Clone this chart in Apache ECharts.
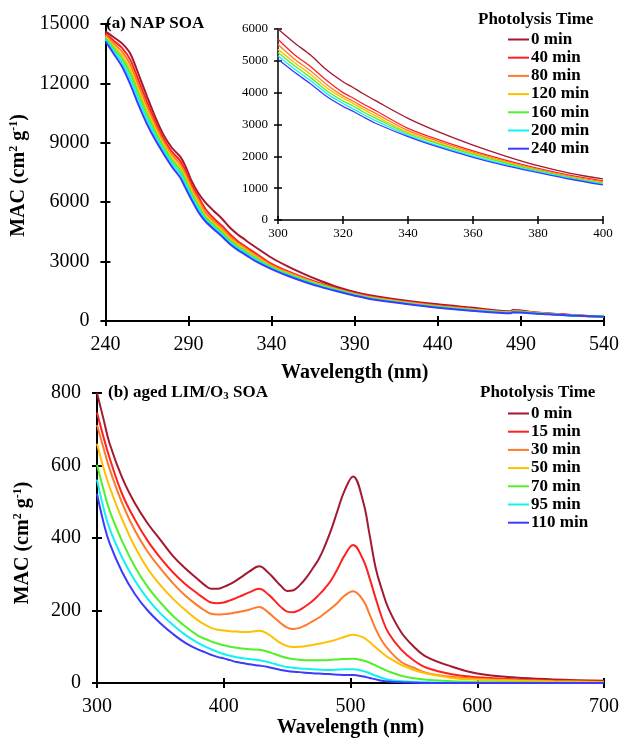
<!DOCTYPE html>
<html><head><meta charset="utf-8">
<script src="https://cdn.jsdelivr.net/npm/echarts@6/dist/echarts.min.js"></script>
<style>html,body{margin:0;padding:0;background:#fff}#c{width:622px;height:739px}</style>
</head><body><div id="c"></div>
<script>
// ---- Panel (a) NAP SOA ----
const NAP_TIMES = ['0 min','40 min','80 min','120 min','160 min','200 min','240 min'];
const NAP_WL  = [240,245,250,255,260,265,270,275,280,285,288,292,296,300,305,310,315,320,323,326,330,340,350,360,370,380,390,400,420,440,460,484,485,500,520,540];
const NAP_0   = [14630,14330,14020,13500,12450,11350,10300,9400,8750,8300,7850,7050,6450,6000,5570,5180,4710,4345,4170,3980,3750,3195,2745,2355,2010,1705,1465,1290,1040,840,680,490,560,430,310,205];
const NAP_40  = [14530,14160,13790,13190,12140,11070,10070,9210,8560,8090,7630,6860,6260,5680,5200,4820,4380,4000,3840,3660,3440,2880,2500,2170,1880,1620,1400,1225,980,780,625,460,520,410,295,208];
const NAP_80  = [14450,14030,13600,12940,11890,10850,9890,9060,8410,7920,7450,6710,6110,5510,5060,4690,4250,3900,3740,3560,3350,2810,2450,2130,1840,1590,1370,1195,955,755,600,440,500,400,290,210];
const NAP_120 = [14370,13900,13410,12690,11640,10620,9700,8910,8260,7750,7280,6560,5960,5360,4950,4580,4150,3830,3670,3490,3270,2750,2400,2090,1820,1570,1350,1170,935,735,580,430,485,395,285,212];
const NAP_160 = [14300,13780,13250,12480,11430,10430,9540,8770,8120,7610,7120,6420,5820,5260,4850,4480,4060,3740,3590,3410,3200,2710,2370,2060,1790,1550,1330,1150,915,715,560,420,470,390,282,214];
const NAP_200 = [14220,13650,13060,12230,11180,10200,9360,8620,7970,7440,6950,6270,5670,5160,4750,4380,3970,3660,3500,3330,3120,2660,2310,2010,1750,1520,1310,1130,895,695,545,405,460,380,278,216];
const NAP_240 = [14130,13500,12850,11950,10900,9950,9150,8450,7800,7250,6750,6100,5500,5050,4650,4280,3880,3570,3420,3250,3040,2620,2270,1970,1710,1490,1280,1100,870,670,520,390,440,370,272,218];
const NAP_SERIES = [NAP_0,NAP_40,NAP_80,NAP_120,NAP_160,NAP_200,NAP_240];

// ---- Panel (b) aged LIM/O3 SOA ----
const LIM_TIMES = ['0 min','15 min','30 min','50 min','70 min','95 min','110 min'];
const LIM_WL  = [300,305,310,320,330,340,350,360,370,380,385,390,395,400,405,410,415,420,428,435,440,445,450,455,460,465,470,475,480,485,490,495,502,510,515,520,525,530,540,550,560,580,600,630,660,700];
const LIM_0   = [800,730,660,565,495,440,395,350,315,285,270,260,260,265,273,283,295,307,322,305,287,268,254,256,270,290,315,342,380,425,478,528,570,500,410,315,255,205,140,100,72,45,26,15,10,6];
const LIM_15  = [746,680,620,520,450,392,345,305,272,245,232,222,220,222,228,235,242,250,260,245,228,210,197,195,202,213,226,243,262,285,316,350,381,340,290,232,178,138,92,62,42,24,16,10,7,4];
const LIM_30  = [712,650,590,495,420,362,316,275,240,212,200,191,189,190,192,195,198,202,210,195,180,165,153,149,152,160,170,180,193,207,222,240,253,228,190,148,115,92,58,42,28,17,12,8,5,3];
const LIM_50  = [660,595,540,450,375,315,270,232,200,172,161,152,147,145,143,142,141,141,144,135,122,110,102,99,100,102,105,108,112,116,121,127,133,126,113,98,83,70,50,36,26,14,9,6,4,2];
const LIM_70  = [602,535,475,390,320,265,222,185,155,130,122,115,109,104,100,97,95,93,92,86,80,74,69,66,64,63,63,63,63,64,65,66,67,62,56,48,40,32,20,13,9,5,3,2,1,1];
const LIM_95  = [561,485,425,345,282,232,192,160,132,110,101,93,86,80,75,71,68,66,63,58,53,48,44,42,40,39,38,37,36,36,37,38,38,33,27,20,14,9,5,3,2,1,1,0,0,0];
const LIM_110 = [522,445,385,305,245,200,165,135,110,92,85,78,72,68,63,58,55,52,48,44,40,36,33,31,30,28,27,26,25,24,23,22,22,18,14,10,6,4,2,1,0,0,0,0,0,0];
const LIM_SERIES = [LIM_0,LIM_15,LIM_30,LIM_50,LIM_70,LIM_95,LIM_110];

const COLORS = ['#A3192F','#FF2020','#FF7A2A','#FFC000','#50F02A','#10F2F2','#3B3BFF'];
const FONT = '"Liberation Serif","Times New Roman",serif';

function pairs(wl, vals, lo, hi){
  const out=[];
  for(let i=0;i<wl.length;i++){ if(wl[i]>=lo && wl[i]<=hi) out.push([wl[i], vals[i]]); }
  return out;
}

function axes(dim, gridIndex, min, max, interval, o){
  const base = {type:'value', gridIndex, min, max, interval, splitLine:{show:false}, position: dim==='x'?'bottom':'left', offset:0};
  const tick = {color:'#000', width:o.lw};
  const a = Object.assign({}, base, {
    axisLine:{show:true, onZero:false, lineStyle:{color:'#000', width:o.lw}},
    axisTick:{show:true, inside:false, length:o.tl, lineStyle:tick},
    axisLabel:{show:true, margin:o.margin, fontFamily:FONT, fontSize:o.fs, color:'#000', formatter:(v)=>String(v)},
    name:o.name||'', nameLocation:'middle', nameGap:o.nameGap||0,
    nameTextStyle:{fontFamily:FONT, fontWeight:'bold', fontSize:20, color:'#000', padding:o.namePad||0,
      rich:{ n:{fontFamily:FONT, fontWeight:'bold', fontSize:20, color:'#000'},
             sup:{fontFamily:FONT, fontWeight:'bold', fontSize:12, color:'#000', padding:[0,0,9,0]} }}
  });
  const b = Object.assign({}, base, {
    axisLine:{show:false, onZero:false},
    axisTick:{show:true, inside:true, length:o.tl, lineStyle:tick},
    axisLabel:{show:false}
  });
  return [a,b];
}

const mainOpt = {lw:2, tl:5, fs:20};
const insetOpt = {lw:1.5, tl:4, fs:13};

const xAxis = [
  ...axes('x',0,240,540,50,Object.assign({},mainOpt,{margin:14,name:'Wavelength (nm)',nameGap:42})),
  ...axes('x',1,300,400,20,Object.assign({},insetOpt,{margin:7})),
  ...axes('x',2,300,700,100,Object.assign({},mainOpt,{margin:14,name:'Wavelength (nm)',nameGap:35}))
];
const yName = '{n|MAC (cm}{sup|2}{n| g}{sup|-1}{n|)}';
const yAxis = [
  ...axes('y',0,0,15000,3000,Object.assign({},mainOpt,{margin:16,name:yName,nameGap:64,namePad:[0,6,0,0]})),
  ...axes('y',1,0,6000,1000,Object.assign({},insetOpt,{margin:10})),
  ...axes('y',2,0,800,200,Object.assign({},mainOpt,{margin:16,name:yName,nameGap:64,namePad:[0,10,0,0]}))
];

const series = [];
NAP_SERIES.forEach((vals,i)=>{
  series.push({type:'line', name:NAP_TIMES[i], xAxisIndex:0, yAxisIndex:0, data:pairs(NAP_WL,vals,240,540),
    showSymbol:false, smooth:0.3, lineStyle:{width:2, color:COLORS[i]}, itemStyle:{color:COLORS[i]}, silent:true});
});
NAP_SERIES.forEach((vals,i)=>{
  series.push({type:'line', name:NAP_TIMES[i], xAxisIndex:2, yAxisIndex:2, data:pairs(NAP_WL,vals,300,400),
    showSymbol:false, smooth:0.3, lineStyle:{width:1.3, color:COLORS[i]}, itemStyle:{color:COLORS[i]}, silent:true});
});
LIM_SERIES.forEach((vals,i)=>{
  series.push({type:'line', name:LIM_TIMES[i], xAxisIndex:4, yAxisIndex:4, data:pairs(LIM_WL,vals,300,700),
    showSymbol:false, smooth:0.4, lineStyle:{width:2, color:COLORS[i]}, itemStyle:{color:COLORS[i]}, silent:true});
});

const bold17 = {fontFamily:FONT, fontWeight:'bold', fontSize:17, color:'#000'};
const legendBase = {orient:'vertical', icon:'rect', itemWidth:21, itemHeight:2, itemGap:1.2, padding:0, selectedMode:false,
  textStyle:Object.assign({}, bold17, {lineHeight:17, padding:[0,0,0,-3]})};

const option = {
  animation:false,
  backgroundColor:'#fff',
  grid:[
    {left:97, right:13, top:24, height:297},
    {left:278, right:19, top:29, height:191},
    {left:97, right:13, top:393, height:296}
  ],
  xAxis, yAxis, series,
  title:[
    {text:'(a) NAP SOA', left:106, top:15, padding:0, textStyle:bold17},
    {text:'{n|(b) aged LIM/O}{sub|3}{n| SOA}', left:108, top:383, padding:0,
      textStyle:Object.assign({}, bold17, {rich:{n:bold17, sub:{fontFamily:FONT, fontWeight:'bold', fontSize:11, color:'#000', padding:[8,0,0,0]}}})},
    {text:'Photolysis Time', left:478, top:11, padding:0, textStyle:bold17},
    {text:'Photolysis Time', left:480, top:384, padding:0, textStyle:bold17}
  ],
  legend:[
    Object.assign({}, legendBase, {left:508, top:31, data:NAP_TIMES}),
    Object.assign({}, legendBase, {left:508, top:405, data:LIM_TIMES})
  ]
};
const chart = echarts.init(document.getElementById('c'));
chart.setOption(option);
</script>
</body></html>
